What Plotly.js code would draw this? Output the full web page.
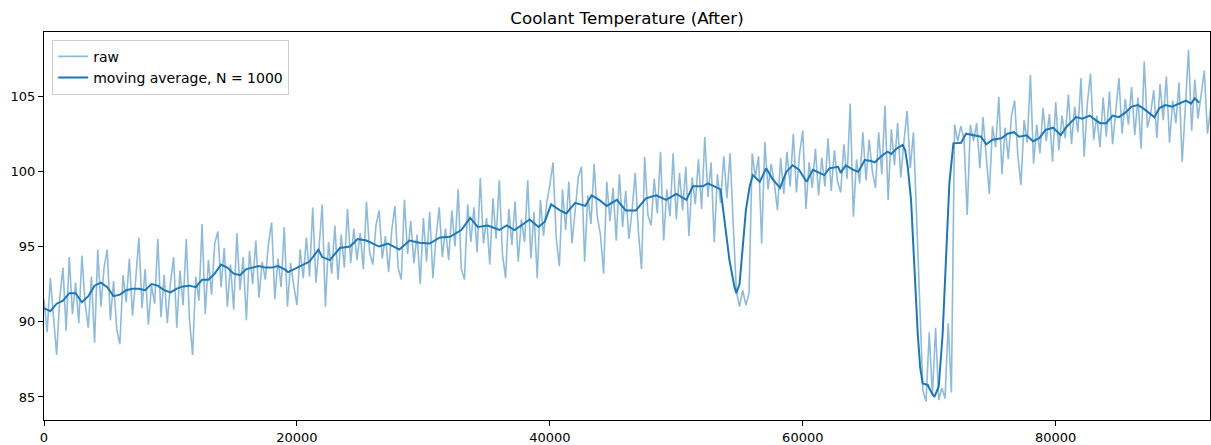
<!DOCTYPE html>
<html>
<head>
<meta charset="utf-8">
<script src="https://cdn.plot.ly/plotly-3.0.1.min.js"></script>
<style>html,body{margin:0;padding:0;background:#fff;}#chart{width:1211px;height:445px;}</style>
</head>
<body>
<div id="chart"></div>
<script>
// ---- data ----
const rawSampleSpacing = 250;
const rawValues = [
91.5, 89.3, 92.9, 90.4, 87.8, 91.6, 93.6, 89.4,
94.3, 90.5, 92.6, 89.9, 94.4, 91.2, 89.6, 93.0,
88.6, 94.8, 91.0, 93.6, 94.8, 90.1, 92.7, 89.5,
88.5, 93.1, 91.3, 94.2, 90.4, 92.8, 95.6, 90.9,
93.5, 89.8, 92.4, 91.2, 95.5, 90.3, 93.1, 89.9,
92.6, 94.3, 89.6, 93.4, 91.1, 95.5, 90.2, 87.8,
93.0, 91.4, 96.5, 90.5, 94.1, 91.8, 95.2, 96.0,
92.3, 94.9, 91.0, 93.8, 90.8, 95.9, 92.1, 94.3,
90.1, 94.7, 92.5, 95.4, 91.6, 94.0, 92.8, 95.2,
96.6, 91.5, 94.2, 92.3, 96.3, 91.0, 93.9, 92.4,
91.1, 94.8, 92.9, 95.6, 93.0, 97.6, 92.6, 94.9,
97.8, 91.0, 95.3, 93.2, 96.4, 92.8, 95.8, 93.6,
97.5, 93.9, 96.2, 94.1, 95.9, 93.5, 97.98, 94.6,
93.8, 96.4, 97.4, 94.2, 95.7, 93.3, 96.1, 97.7,
93.6, 92.8, 98.1, 94.5, 96.7, 93.9, 95.8, 92.5,
96.9, 94.0, 97.3, 92.9, 95.6, 97.6, 94.3, 96.2,
94.1, 97.4, 95.0, 98.8, 93.5, 92.8, 97.8, 95.3,
97.6, 94.6, 99.55, 95.2, 96.9, 93.8, 98.2, 95.5,
99.4, 94.5, 92.9, 97.5, 95.1, 98.0, 94.0, 96.8,
95.3, 99.4, 94.2, 97.3, 92.9, 98.1, 95.7, 97.9,
99.1, 100.6, 95.6, 93.7, 98.8, 96.1, 99.3, 95.2,
97.3, 99.6, 100.3, 93.99, 98.4, 96.5, 100.5, 97.0,
95.8, 93.2, 99.3, 96.7, 98.9, 95.4, 99.8, 96.3,
98.7, 95.5, 97.4, 99.9, 96.0, 93.5, 100.97, 97.1,
96.4, 99.5, 97.2, 101.3, 95.4, 98.8, 97.0, 101.2,
96.8, 99.9, 97.4, 100.3, 95.7, 99.6, 97.8, 100.8,
97.5, 102.3, 98.3, 100.6, 95.3, 99.8, 97.9, 101.0,
98.2, 101.2, 96.5, 92.0, 91.0, 92.1, 91.1, 91.9,
101.2, 99.6, 101.0, 95.2,
101.97, 98.8, 100.5, 99.2, 97.4, 100.9, 98.5, 101.3,
99.0, 102.5, 98.6, 101.2, 102.7, 97.5, 100.6, 98.9,
101.5, 98.4, 100.9, 99.0, 102.2, 98.7, 101.4, 99.3,
98.6, 101.8, 99.5, 104.5, 96.98, 100.8, 99.2, 102.6,
99.4, 102.1, 100.0, 98.9, 102.6, 99.8, 104.35, 98.1,
102.8, 100.4, 103.2, 99.6, 102.0, 104.0, 100.2, 102.6,
97.0, 90.5, 85.4, 84.7, 89.3, 85.1, 89.6, 84.8,
85.6, 84.9, 89.9, 85.3, 103.1, 102.0, 103.0, 102.1,
97.1, 103.1, 102.0, 103.2,
100.2, 103.6, 101.3, 98.5, 103.0, 101.6, 104.96, 99.8,
102.9, 100.8, 103.7, 104.7, 101.1, 99.1, 103.4, 101.9,
106.4, 100.5, 103.1, 101.2, 104.2, 102.0, 103.8, 100.64,
104.6, 101.4, 103.7, 102.2, 105.1, 101.8, 104.3, 102.6,
106.2, 100.97, 104.5, 106.5, 102.1, 103.7, 101.6, 104.9,
102.3, 105.3, 101.8, 104.2, 106.2, 102.5, 104.8, 103.1,
105.6, 102.4, 104.9, 101.5, 107.3, 102.9, 103.8, 105.4,
102.2, 105.8, 103.4, 106.3, 101.9, 104.7, 103.2, 105.9,
100.64, 104.2, 108.06, 102.7, 106.1, 103.5, 105.2, 106.7,
102.5, 104.2
];
const rawIndex = rawValues.map((v, i) => i * rawSampleSpacing);

const maIndex = [0,500,1000,1500,2000,2500,3000,3500,4000,4500,5000,5500,6000,6500,7000,7500,8000,8500,9000,9500,
10000,10500,11000,11500,12000,12500,13000,13500,14000,14500,15000,15500,16000,16500,17000,17500,18000,18500,19000,19300,
20000,21000,21700,22000,22600,23400,24200,24800,25500,26500,27200,28100,28900,29700,30500,31300,32100,33000,33700,34300,
35100,36000,36600,37200,37900,38400,39100,39600,40100,40800,41300,42000,42800,43300,43900,44500,45300,46000,46800,47600,
48400,49200,50000,50800,51300,52100,52500,53000,53500,53800,54200,54600,54750,55000,55250,55500,55800,56050,56600,57100,
57600,58200,58700,59200,59700,60300,60800,61700,62100,62800,63000,63400,64000,64400,64900,65300,65700,66200,66700,67000,
67400,67900,68100,68300,68560,68690,68880,69090,69280,69480,69880,70140,70410,70750,71060,71330,71590,71910,72520,72910,
73400,74100,74500,75000,75700,76200,76700,77100,77700,78200,78700,79200,79800,80200,80400,80800,81600,82100,82700,83000,
83500,84000,84500,85000,85500,86000,86500,86900,87400,87800,88200,88700,89200,89800,90300,90700,91000,91350];
const maValues = [90.9,90.7,91.2,91.4,91.9,91.9,91.3,91.7,92.4,92.6,92.3,91.7,91.8,92.1,92.2,92.2,92.1,92.5,92.4,92.1,
91.95,92.2,92.35,92.4,92.3,92.8,92.8,93.2,93.8,93.6,93.2,93.1,93.5,93.6,93.7,93.6,93.6,93.7,93.5,93.3,
93.6,94.0,94.8,94.3,94.1,94.9,95.0,95.5,95.4,95.0,95.2,94.8,95.4,95.25,95.2,95.6,95.65,96.1,96.9,96.3,
96.4,96.1,96.4,96.1,96.5,96.8,96.3,96.65,97.8,97.4,97.2,97.9,97.7,98.4,98.1,97.7,98.1,97.4,97.4,98.2,
98.4,98.1,98.5,98.1,99.0,99.0,99.2,99.0,98.8,96.8,94.1,92.3,91.9,92.5,94.8,97.4,99.0,99.75,99.3,100.2,
99.5,98.9,99.97,100.4,100.1,99.3,100.1,99.75,100.2,100.3,99.9,100.4,100.1,99.97,100.75,100.7,100.6,101.0,101.3,101.15,
101.5,101.75,101.4,100.3,98.1,95.9,92.3,89.2,87.0,85.9,85.8,85.35,85.0,85.7,89.2,94.8,99.2,101.86,101.9,102.5,
102.4,102.3,101.8,102.1,102.2,102.5,102.6,102.3,102.4,102.0,102.2,102.75,102.9,102.6,102.4,102.9,103.6,103.5,103.7,103.5,
103.2,103.2,103.7,103.6,103.9,104.3,104.4,104.2,103.9,103.6,104.2,104.4,104.3,104.5,104.7,104.5,104.85,104.56];

const xTicks = [0, 20000, 40000, 60000, 80000];
const yTicks = [85, 90, 95, 100, 105];
const chartTitle = 'Coolant Temperature (After)';
const rawName = 'raw';
const maName = 'moving average, N = 1000';

// ---- chart ----
const FONT = 'DejaVu Sans, sans-serif';
const traces = [
  {x: rawIndex, y: rawValues, type: 'scatter', mode: 'lines', name: rawName,
   line: {color: 'rgba(31,119,180,0.5)', width: 1.6}, hoverinfo: 'skip'},
  {x: maIndex, y: maValues, type: 'scatter', mode: 'lines', name: maName,
   line: {color: '#1f77b4', width: 2}, hoverinfo: 'skip'}
];
const axisCommon = {
  showline: true, linecolor: '#000', linewidth: 1, mirror: true,
  ticks: 'outside', ticklen: 5, tickwidth: 1, tickcolor: '#000',
  showgrid: false, zeroline: false,
  tickfont: {family: FONT, size: 13, color: '#000'}
};
const layout = {
  width: 1211, height: 445,
  margin: {l: 44, r: 1, t: 32, b: 25, pad: 0},
  paper_bgcolor: '#fff', plot_bgcolor: '#fff',
  title: {text: chartTitle, font: {family: FONT, size: 16.7, color: '#000'},
          x: 0.5, xref: 'paper', xanchor: 'center', y: 0.96, yref: 'container', yanchor: 'middle'},
  xaxis: Object.assign({}, axisCommon, {range: [0, 92200], tickmode: 'array', tickvals: xTicks,
          ticktext: xTicks.map(String)}),
  yaxis: Object.assign({}, axisCommon, {range: [83.47, 109.26], tickmode: 'array', tickvals: yTicks,
          ticktext: yTicks.map(String)}),
  showlegend: true,
  legend: {x: 0.007, y: 0.98, xanchor: 'left', yanchor: 'top',
           bgcolor: 'rgba(255,255,255,0.8)', bordercolor: '#cccccc', borderwidth: 1,
           font: {family: FONT, size: 14, color: '#000'}, itemwidth: 30, tracegroupgap: 0},
  hovermode: false
};
Plotly.newPlot('chart', traces, layout, {displayModeBar: false, staticPlot: true});
</script>
</body>
</html>
